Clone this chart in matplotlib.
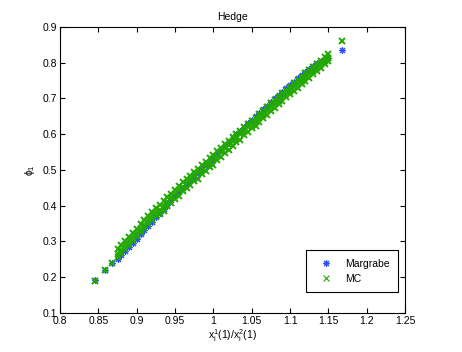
import numpy as np
import matplotlib
matplotlib.use("Agg")
import matplotlib.pyplot as plt

plt.rcParams['font.family'] = ['Liberation Sans', 'DejaVu Sans']
plt.rcParams['mathtext.default'] = 'regular'
plt.rcParams['font.size'] = 7.5

# Margrabe hedge
blue_x = [0.845, 0.859, 0.868, 0.875, 0.880, 0.885, 0.890, 0.895, 0.900, 0.905,
          0.910, 0.915, 0.920, 0.925, 0.930, 0.935, 0.940, 0.945, 0.950, 0.955,
          0.960, 0.965, 0.970, 0.975, 0.980, 0.985, 0.990, 0.995, 1.000, 1.005,
          1.010, 1.015, 1.020, 1.025, 1.030, 1.035, 1.040, 1.045, 1.050, 1.055,
          1.060, 1.065, 1.070, 1.075, 1.080, 1.085, 1.090, 1.095, 1.100, 1.105,
          1.110, 1.115, 1.120, 1.125, 1.130, 1.135, 1.140, 1.145, 1.150, 1.168]
blue_y = [0.192, 0.220, 0.239, 0.250, 0.261, 0.273, 0.285, 0.296, 0.308, 0.320,
          0.331, 0.343, 0.354, 0.367, 0.379, 0.391, 0.403, 0.415, 0.427, 0.438,
          0.449, 0.460, 0.470, 0.481, 0.491, 0.502, 0.513, 0.523, 0.534, 0.545,
          0.556, 0.567, 0.578, 0.589, 0.600, 0.610, 0.620, 0.630, 0.640, 0.650,
          0.660, 0.670, 0.680, 0.690, 0.700, 0.709, 0.719, 0.728, 0.737, 0.747,
          0.756, 0.765, 0.774, 0.783, 0.790, 0.798, 0.805, 0.810, 0.814, 0.836]

# MC hedge: band of points (upper / middle / lower edge at each x)
mc_x = [0.875, 0.880, 0.885, 0.890, 0.895, 0.900, 0.905, 0.910, 0.915, 0.920,
        0.925, 0.930, 0.935, 0.940, 0.945, 0.950, 0.955, 0.960, 0.965, 0.970,
        0.975, 0.980, 0.985, 0.990, 0.995, 1.000, 1.005, 1.010, 1.015, 1.020,
        1.025, 1.030, 1.035, 1.040, 1.045, 1.050, 1.055, 1.060, 1.065, 1.070,
        1.075, 1.080, 1.085, 1.090, 1.095, 1.100, 1.105, 1.110, 1.115, 1.120,
        1.125, 1.130, 1.135, 1.140, 1.145, 1.150]
mc_hi = [0.278, 0.289, 0.301, 0.313, 0.324, 0.336, 0.348, 0.359, 0.371, 0.382,
         0.393, 0.401, 0.412, 0.423, 0.434, 0.445, 0.455, 0.465, 0.475, 0.484,
         0.494, 0.503, 0.513, 0.523, 0.532, 0.542, 0.552, 0.562, 0.572, 0.582,
         0.591, 0.601, 0.610, 0.620, 0.629, 0.638, 0.646, 0.656, 0.666, 0.676,
         0.686, 0.696, 0.705, 0.715, 0.724, 0.733, 0.743, 0.752, 0.761, 0.770,
         0.779, 0.788, 0.797, 0.806, 0.817, 0.824]
mc_mid = [0.266, 0.277, 0.289, 0.301, 0.312, 0.324, 0.336, 0.347, 0.359, 0.370,
          0.382, 0.389, 0.400, 0.411, 0.422, 0.433, 0.443, 0.453, 0.463, 0.472,
          0.482, 0.491, 0.501, 0.511, 0.520, 0.530, 0.540, 0.550, 0.560, 0.570,
          0.580, 0.590, 0.600, 0.610, 0.620, 0.628, 0.635, 0.645, 0.655, 0.665,
          0.675, 0.685, 0.694, 0.704, 0.713, 0.722, 0.732, 0.741, 0.750, 0.759,
          0.768, 0.777, 0.786, 0.795, 0.804, 0.814]
mc_lo = [0.256, 0.267, 0.279, 0.291, 0.302, 0.314, 0.326, 0.337, 0.349, 0.360,
         0.371, 0.377, 0.386, 0.398, 0.407, 0.420, 0.428, 0.440, 0.449, 0.458,
         0.470, 0.476, 0.488, 0.497, 0.507, 0.515, 0.527, 0.535, 0.547, 0.555,
         0.566, 0.577, 0.585, 0.597, 0.606, 0.617, 0.624, 0.633, 0.645, 0.653,
         0.664, 0.673, 0.684, 0.692, 0.703, 0.711, 0.722, 0.730, 0.740, 0.748,
         0.758, 0.767, 0.777, 0.786, 0.796, 0.806]
mc_extra_x = [0.845, 0.859, 0.868, 1.168]
mc_extra_y = [0.190, 0.219, 0.240, 0.861]

blue = '#3350ff'
green = '#22a800'

fig = plt.figure(figsize=(4.62, 3.52), dpi=100)
ax = fig.add_axes([0.130, 0.111, 0.747, 0.8125])

# MATLAB style asterisk: 4 crossing strokes
ax.plot(blue_x, blue_y, linestyle='none', marker=(8, 2, 0), color=blue,
        ms=5, mew=0.8, label='Margrabe')
gx = mc_extra_x + mc_x * 3
gy = mc_extra_y + mc_hi + mc_mid + mc_lo
ax.plot(gx, gy, 'x', color=green, ms=4.2, mew=1.4, label='MC')

ax.set_xlim(0.8, 1.25)
ax.set_ylim(0.1, 0.9)
ax.set_xticks([0.8, 0.85, 0.9, 0.95, 1, 1.05, 1.1, 1.15, 1.2, 1.25])
ax.set_xticklabels(['0.8', '0.85', '0.9', '0.95', '1', '1.05', '1.1', '1.15', '1.2', '1.25'])
ax.set_yticks([0.1, 0.2, 0.3, 0.4, 0.5, 0.6, 0.7, 0.8, 0.9])
ax.set_yticklabels(['0.1', '0.2', '0.3', '0.4', '0.5', '0.6', '0.7', '0.8', '0.9'])
ax.tick_params(direction='in', length=3.5, width=0.8, top=True, right=True, pad=2)
for s in ax.spines.values():
    s.set_linewidth(0.8)

ax.set_title('Hedge', fontsize=7.5, pad=5)
ax.set_xlabel(r'$x_i^1(1)/x_i^2(1)$', labelpad=1)
ax.set_ylabel(r'$\phi_1$', labelpad=4)

leg = ax.legend(loc='lower right', bbox_to_anchor=(0.98, 0.073), fancybox=False,
                edgecolor='black', framealpha=1, borderpad=0.8, handletextpad=0.8,
                labelspacing=0.5, handlelength=2.2, borderaxespad=0)
leg.get_frame().set_linewidth(0.8)
for h in leg.legend_handles:
    h.set_markeredgewidth(0.8)

fig.savefig('out.png', dpi=100)
